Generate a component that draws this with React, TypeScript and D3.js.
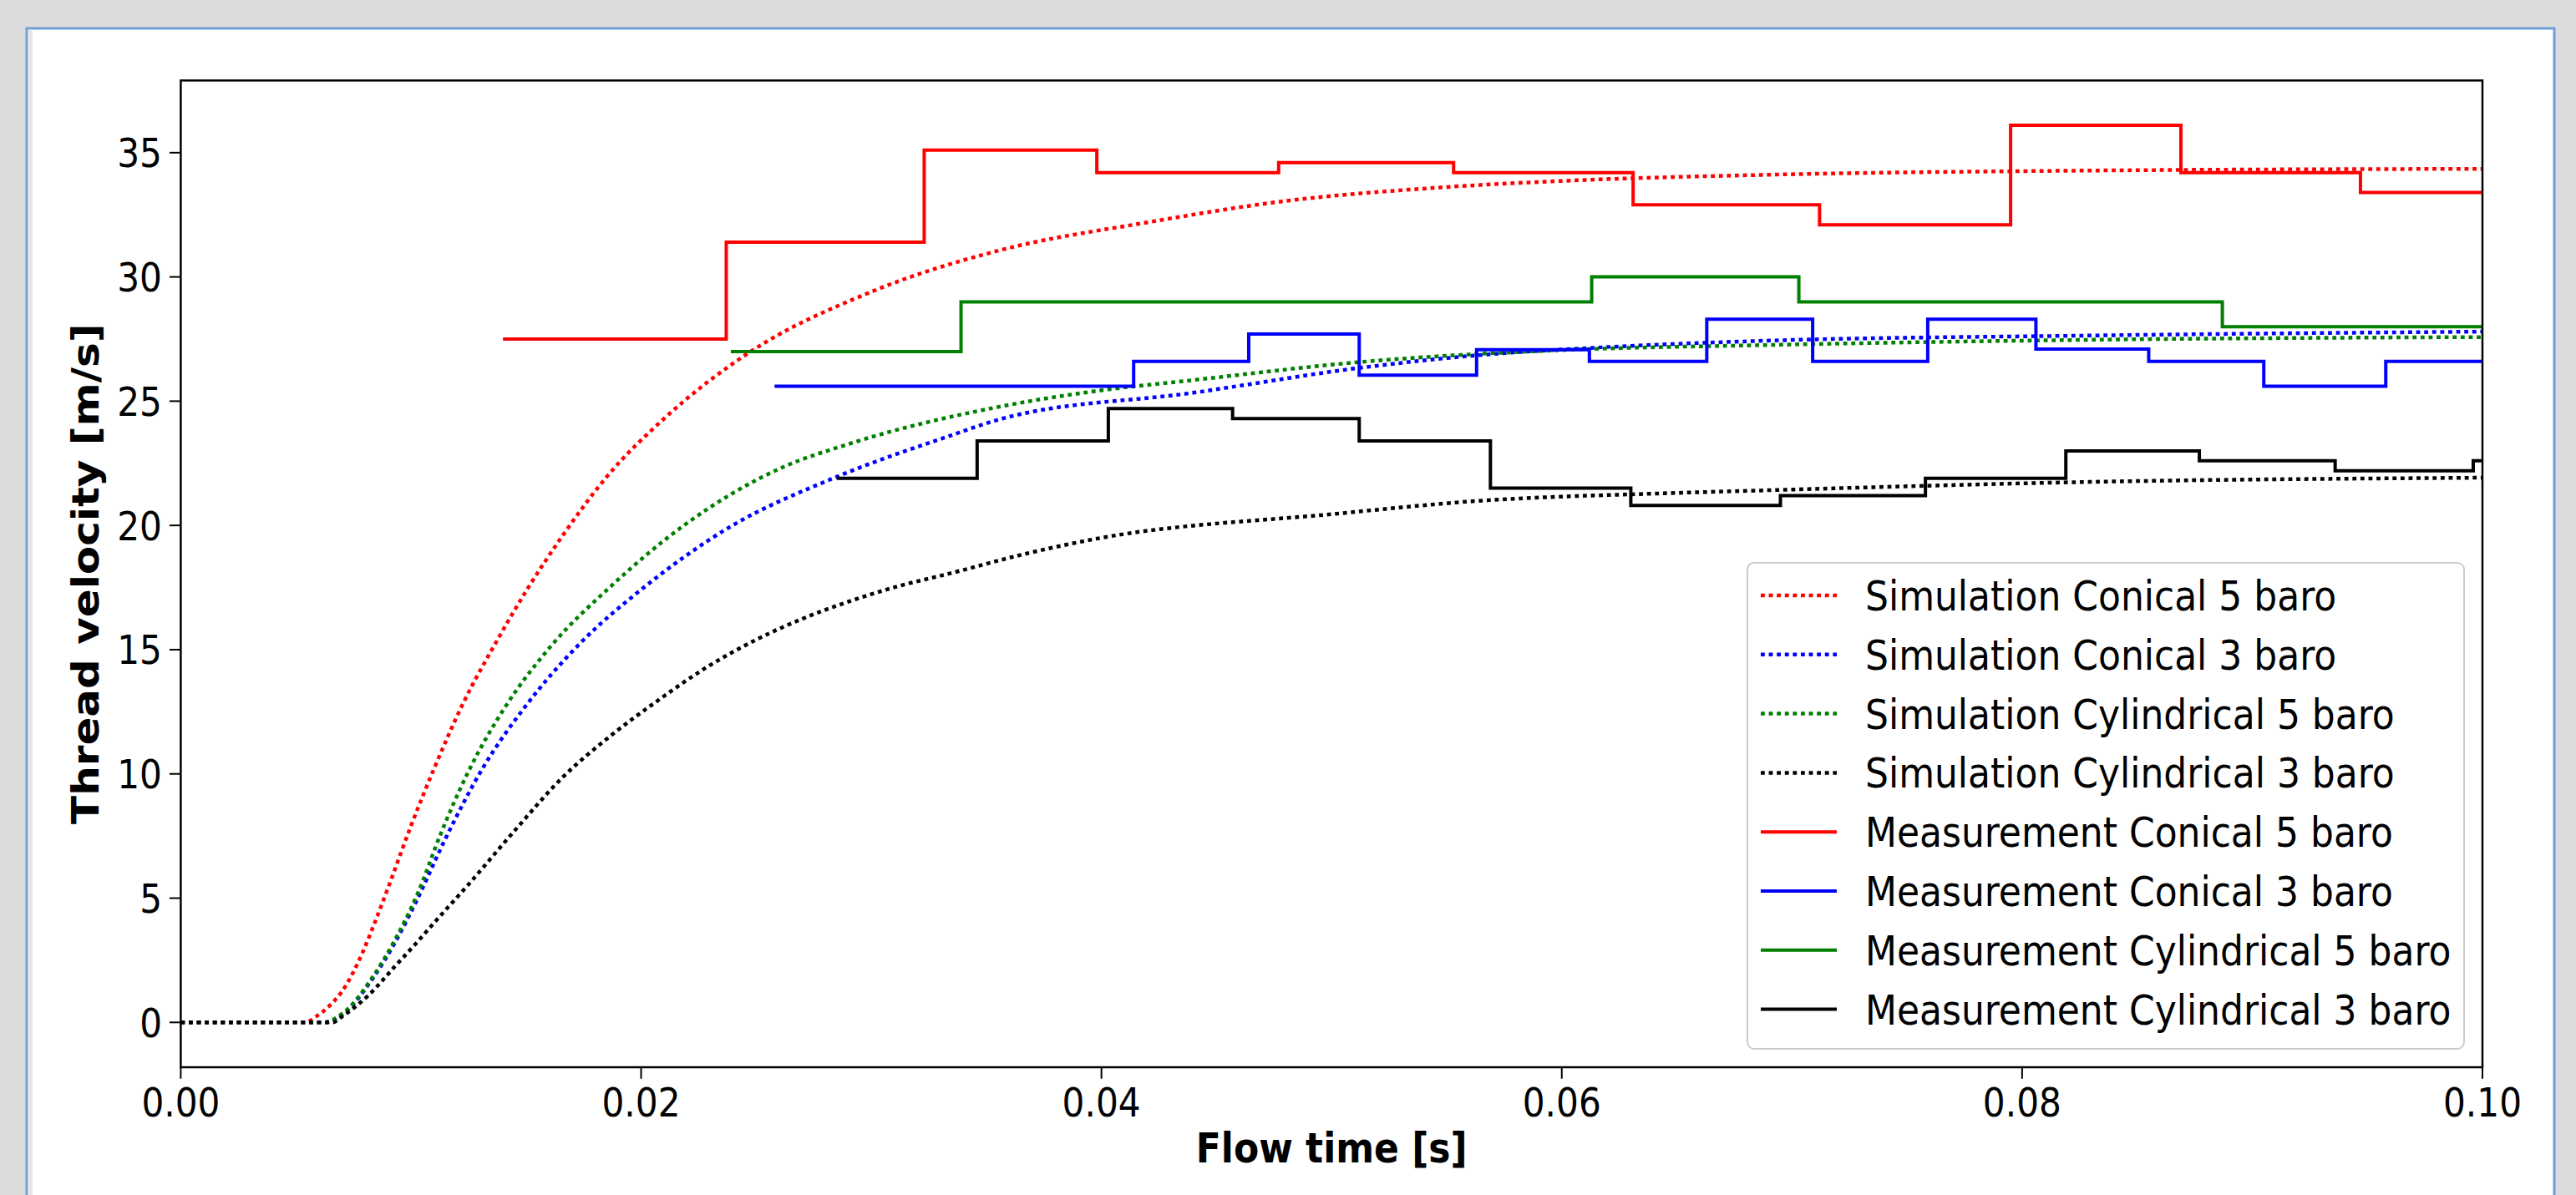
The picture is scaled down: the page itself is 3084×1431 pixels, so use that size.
import React from "react";
import * as d3 from "d3";

// simulation curves: [time s, velocity m/s]
const simConical5: [number, number][] = [
  [0, 0], [0.0054, 0], [0.0059, 0.25], [0.0065, 0.7], [0.007, 1.24], [0.0079, 2.81], [0.0084, 3.95],
  [0.009, 5.4], [0.01, 7.9], [0.011, 10.2], [0.0123, 12.9], [0.0137, 15.3], [0.0151, 17.5], [0.0166, 19.6],
  [0.0185, 21.95], [0.021, 24.3], [0.0246, 26.9], [0.03, 29.4], [0.0357, 31.1], [0.0419, 32.18],
  [0.0482, 33.08], [0.0544, 33.58], [0.0607, 33.89], [0.0684, 34.1], [0.0829, 34.28], [0.1, 34.35],
];
const simConical3: [number, number][] = [
  [0, 0], [0.0063, 0], [0.007, 0.3], [0.0084, 1.85], [0.0093, 3.2], [0.0103, 5.0], [0.0114, 7.2],
  [0.0131, 10.2], [0.015, 12.75], [0.01725, 15.16], [0.0202, 17.56], [0.0239, 19.96], [0.0283, 21.88],
  [0.0333, 23.57], [0.0357, 24.3], [0.044, 25.34], [0.0513, 26.35], [0.0565, 26.86], [0.0612, 27.14],
  [0.0684, 27.42], [0.0829, 27.64], [0.1, 27.8],
];
const simCyl5: [number, number][] = [
  [0, 0], [0.0062, 0], [0.007, 0.34], [0.0084, 1.91], [0.0093, 3.31], [0.0103, 5.2], [0.0113, 7.6],
  [0.0125, 10.1], [0.0141, 12.7], [0.0161, 15.16], [0.0187, 17.56], [0.0218, 19.96], [0.0262, 22.36],
  [0.0291, 23.3], [0.0357, 24.8], [0.0397, 25.4], [0.044, 25.85], [0.0513, 26.58], [0.0607, 27.08],
  [0.0684, 27.25], [0.0829, 27.47], [0.1, 27.58],
];
const simCyl3: [number, number][] = [
  [0, 0], [0.0066, 0], [0.007, 0.23], [0.0082, 1.13], [0.0093, 2.25], [0.0103, 3.26], [0.011, 4.0],
  [0.0125, 5.55], [0.0145, 7.71], [0.0166, 9.87], [0.0187, 11.55], [0.0208, 13.0], [0.0229, 14.32],
  [0.025, 15.4], [0.027, 16.24], [0.0291, 16.96], [0.0312, 17.56], [0.0333, 18.04], [0.0368, 18.88],
  [0.0397, 19.45], [0.0502, 20.47], [0.0561, 20.97], [0.0647, 21.3], [0.0684, 21.4], [0.0829, 21.75],
  [0.1, 21.92],
];

// measurements: step start times and values (each held until the next start, last one until 0.1)
const measCon5T = [0.014, 0.0237, 0.0323, 0.0398, 0.0477, 0.0553, 0.0631, 0.0712, 0.0795, 0.0869, 0.0947];
const measCon5V = [27.5, 31.4, 35.1, 34.2, 34.6, 34.2, 32.9, 32.1, 36.1, 34.2, 33.4];
const measCon3T = [0.0258, 0.0414, 0.0464, 0.0512, 0.0563, 0.0612, 0.0663, 0.0709, 0.0759, 0.0806, 0.0855, 0.0905, 0.0958];
const measCon3V = [25.6, 26.6, 27.7, 26.05, 27.07, 26.6, 28.3, 26.6, 28.3, 27.1, 26.6, 25.6, 26.6];
const measCyl5T = [0.0239, 0.0339, 0.0613, 0.0703, 0.0887];
const measCyl5V = [27.0, 29.0, 30.0, 29.0, 28.0];
const measCyl3T = [0.0285, 0.0346, 0.0403, 0.0457, 0.0512, 0.0569, 0.063, 0.0695, 0.0758, 0.0819, 0.0877, 0.0936, 0.0996];
const measCyl3V = [21.9, 23.4, 24.7, 24.3, 23.4, 21.5, 20.8, 21.2, 21.9, 23.0, 22.6, 22.2, 22.6];

const xTicks = [0, 0.02, 0.04, 0.06, 0.08, 0.1];
const yTicks = [0, 5, 10, 15, 20, 25, 30, 35];

const W = 3084;
const H = 1431;
const left = 216.4;
const right = 2972;
const top = 96.4;
const bottom = 1278;
const SX = 0.88; // the picture is squeezed sideways
const DOTS = "4.8 4.8";

const steps = (ts: number[], vs: number[]): [number, number][] => {
  const pts: [number, number][] = ts.map((t, i) => [t, vs[i]]);
  pts.push([0.1, vs[vs.length - 1]]);
  return pts;
};

const series = [
  { name: "Simulation Conical 5 baro", color: "#ff0000", dotted: true, data: simConical5 },
  { name: "Simulation Conical 3 baro", color: "#0000ff", dotted: true, data: simConical3 },
  { name: "Simulation Cylindrical 5 baro", color: "#008000", dotted: true, data: simCyl5 },
  { name: "Simulation Cylindrical 3 baro", color: "#000000", dotted: true, data: simCyl3 },
  { name: "Measurement Conical 5 baro", color: "#ff0000", dotted: false, data: steps(measCon5T, measCon5V) },
  { name: "Measurement Conical 3 baro", color: "#0000ff", dotted: false, data: steps(measCon3T, measCon3V) },
  { name: "Measurement Cylindrical 5 baro", color: "#008000", dotted: false, data: steps(measCyl5T, measCyl5V) },
  { name: "Measurement Cylindrical 3 baro", color: "#000000", dotted: false, data: steps(measCyl3T, measCyl3V) },
];

const SText = ({ x, y, size, anchor = "start", weight = "normal", rotate = 0, children }: any) => (
  <text
    transform={`translate(${x},${y}) scale(${SX},1)${rotate ? ` rotate(${rotate})` : ""}`}
    fontSize={size}
    fontFamily="DejaVu Sans"
    fontWeight={weight}
    textAnchor={anchor}
    fill="#000"
  >
    {children}
  </text>
);

const App = () => {
  const x = d3.scaleLinear().domain([0, 0.1]).range([left, right]);
  const y = d3.scaleLinear().domain([-1.805, 37.905]).range([bottom, top]);

  const smooth = d3.line<[number, number]>().x((d) => x(d[0])).y((d) => y(d[1])).curve(d3.curveMonotoneX);
  const stepped = d3.line<[number, number]>().x((d) => x(d[0])).y((d) => y(d[1])).curve(d3.curveStepAfter);

  const legX = 2092;
  const legY = 674;
  const rowH = 70.8;

  return (
    <svg width={W} height={H} style={{ position: "absolute", left: 0, top: 0 }}>
      <rect x={0} y={0} width={W} height={H} fill="#dcdcdc" />
      <rect x={32} y={34} width={3026} height={H} fill="#ffffff" stroke="#6a9fd6" strokeWidth={3} />
      <rect x={33.5} y={35.5} width={5.5} height={H} fill="#e6e6e6" />

      <defs>
        <clipPath id="plot">
          <rect x={left} y={top} width={right - left} height={bottom - top} />
        </clipPath>
      </defs>

      <g clipPath="url(#plot)">
        {series.map((s) => (
          <path
            key={s.name}
            d={(s.dotted ? smooth : stepped)(s.data) || ""}
            fill="none"
            stroke={s.color}
            strokeWidth={s.dotted ? 4.5 : 4}
            strokeDasharray={s.dotted ? DOTS : undefined}
            strokeLinejoin="miter"
          />
        ))}
      </g>

      <rect x={left} y={top} width={right - left} height={bottom - top} fill="none" stroke="#000" strokeWidth={2.5} />

      {yTicks.map((t) => (
        <g key={"y" + t}>
          <line x1={left - 13.5} x2={left} y1={y(t)} y2={y(t)} stroke="#000" strokeWidth={2} />
          <SText x={194} y={y(t) + 17.5} size={48} anchor="end">{t}</SText>
        </g>
      ))}
      {xTicks.map((t) => (
        <g key={"x" + t}>
          <line x1={x(t)} x2={x(t)} y1={bottom} y2={bottom + 13.7} stroke="#000" strokeWidth={2} />
          <SText x={x(t)} y={1337} size={48} anchor="middle">{t.toFixed(2)}</SText>
        </g>
      ))}

      <SText x={(left + right) / 2} y={1392} size={50} anchor="middle" weight="bold">Flow time [s]</SText>
      <SText x={118} y={(top + bottom) / 2} size={50} anchor="middle" weight="bold" rotate={-90}>Thread velocity [m/s]</SText>

      <rect x={legX} y={legY} width={858} height={582} rx={8} fill="#ffffff" fillOpacity={0.8} stroke="#cccccc" strokeWidth={2} />
      {series.map((s, i) => {
        const cy = legY + 39 + i * rowH;
        return (
          <g key={"leg" + s.name}>
            <line
              x1={legX + 16}
              x2={legX + 107}
              y1={cy}
              y2={cy}
              stroke={s.color}
              strokeWidth={s.dotted ? 4.5 : 4}
              strokeDasharray={s.dotted ? DOTS : undefined}
            />
            <SText x={legX + 141} y={cy + 18} size={50}>{s.name}</SText>
          </g>
        );
      })}
    </svg>
  );
};

export default App;
